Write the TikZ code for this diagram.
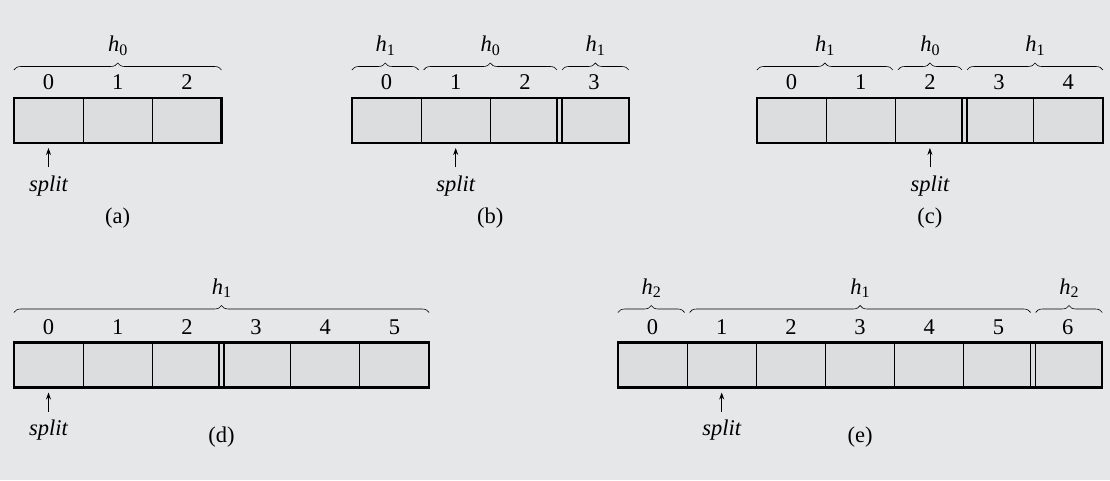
\documentclass[tikz,border=0pt]{standalone}
\usepackage{fontspec}
\setmainfont{Liberation Serif}
\usepackage{tikz}
\usetikzlibrary{arrows.meta, positioning, decorations.pathreplacing}
\definecolor{bggray}{HTML}{E6E7E8}
\definecolor{cellgray}{HTML}{DCDDDF}
\newcommand{\hfn}[1]{\textit{h}\raisebox{-0.35ex}{\fontsize{16}{16}\selectfont #1}}

\begin{document}
\begin{tikzpicture}[
    x=1pt, y=1pt,
    font=\fontsize{22.5}{25}\selectfont,
    cell/.style={draw, fill=cellgray, line width=1.1pt, minimum width=69.2pt, minimum height=45pt, inner sep=0pt, outer sep=0pt},
    dbl/.style={draw, fill=cellgray, line width=1.1pt, minimum width=5pt, minimum height=45pt, inner sep=0pt, outer sep=0pt},
    frame/.style={draw, line width=2.3pt},
    idx/.style={anchor=base, inner sep=0pt},
    brc/.style={decorate, decoration={brace, amplitude=7pt}, line width=0.6pt},
    hlbl/.style={anchor=base, inner sep=0pt, yshift=18.5pt},
    splitlbl/.style={anchor=base, inner sep=0pt, font=\fontsize{22.5}{25}\selectfont\itshape},
    caplbl/.style={anchor=base, inner sep=0pt},
    arrow/.style={-{Stealth[length=7pt, width=5pt]}, line width=0.8pt, shorten <=8pt, shorten >=5pt}
]
    \useasboundingbox (0,0) rectangle (1110,480);
    \fill[bggray] (0,0) rectangle (1110,480);

    % (a)
    \foreach \i in {0,1,2} {
        \node[cell] (a\i) at (48.5+69.2*\i, 359.5) {};
        \node[idx] (na\i) at ([yshift=8.5pt]a\i.north) {\i};
    }
    \draw[frame] (a0.north west) rectangle (a2.south east);
    \draw[brc] ([yshift=28pt]a0.north west) -- node[midway, hlbl] (ha0) {\hfn{0}} ([yshift=28pt]a2.north east);
    \node[splitlbl] (sa) at ([yshift=-48pt]a0.south) {split};
    \draw[arrow] (sa) -- (a0);
    \node[caplbl] (capa) at ([yshift=-80pt]a1.south) {(a)};

    % (b)
    \foreach \i in {0,...,3} {
        \node[cell] (b\i) at (386.5+69.2*\i, 359.5) {};
        \node[idx] (nb\i) at ([yshift=8.5pt]b\i.north) {\i};
    }
    \node[dbl] (b23) at (b2.east) {};
    \draw[frame] (b0.north west) rectangle (b3.south east);
    \draw[brc] ([yshift=28pt]b0.north west) -- node[midway, hlbl] (hb0) {\hfn{1}} ([shift={(-2.5,28)}]b0.north east);
    \draw[brc] ([shift={(2.5,28)}]b1.north west) -- node[midway, hlbl] (hb1) {\hfn{0}} ([shift={(-2.5,28)}]b2.north east);
    \draw[brc] ([shift={(2.5,28)}]b3.north west) -- node[midway, hlbl] (hb2) {\hfn{1}} ([yshift=28pt]b3.north east);
    \node[splitlbl] (sb) at ([yshift=-48pt]b1.south) {split};
    \draw[arrow] (sb) -- (b1);
    \node[caplbl] (capb) at ([yshift=-80pt]b1.south east) {(b)};

    % (c)
    \foreach \i in {0,...,4} {
        \node[cell] (c\i) at (791.5+69.2*\i, 359.5) {};
        \node[idx] (nc\i) at ([yshift=8.5pt]c\i.north) {\i};
    }
    \node[dbl] (c23) at (c2.east) {};
    \draw[frame] (c0.north west) rectangle (c4.south east);
    \draw[brc] ([yshift=28pt]c0.north west) -- node[midway, hlbl] (hc0) {\hfn{1}} ([shift={(-2.5,28)}]c1.north east);
    \draw[brc] ([shift={(2.5,28)}]c2.north west) -- node[midway, hlbl] (hc1) {\hfn{0}} ([shift={(-2.5,28)}]c2.north east);
    \draw[brc] ([shift={(2.5,28)}]c3.north west) -- node[midway, hlbl] (hc2) {\hfn{1}} ([yshift=28pt]c4.north east);
    \node[splitlbl] (sc) at ([yshift=-48pt]c2.south) {split};
    \draw[arrow] (sc) -- (c2);
    \node[caplbl] (capc) at ([yshift=-80pt]c2.south) {(c)};

    % (d)
    \foreach \i in {0,...,5} {
        \node[cell] (d\i) at (48.5+69.2*\i, 115) {};
        \node[idx] (nd\i) at ([yshift=8.5pt]d\i.north) {\i};
    }
    \node[dbl] (d23) at (d2.east) {};
    \draw[frame] (d0.north west) rectangle (d5.south east);
    \draw[brc] ([yshift=30pt]d0.north west) -- node[midway, hlbl] (hd0) {\hfn{1}} ([yshift=30pt]d5.north east);
    \node[splitlbl] (sd) at ([yshift=-48pt]d0.south) {split};
    \draw[arrow] (sd) -- (d0);
    \node[caplbl] (capd) at ([yshift=-55pt]d2.south east) {(d)};

    % (e)
    \foreach \i in {0,...,6} {
        \node[cell] (e\i) at (652.5+69.2*\i, 115) {};
        \node[idx] (ne\i) at ([yshift=8.5pt]e\i.north) {\i};
    }
    \node[dbl] (e56) at (e5.east) {};
    \draw[frame] (e0.north west) rectangle (e6.south east);
    \draw[brc] ([yshift=30pt]e0.north west) -- node[midway, hlbl] (he0) {\hfn{2}} ([shift={(-2.5,30)}]e0.north east);
    \draw[brc] ([shift={(2.5,30)}]e1.north west) -- node[midway, hlbl] (he1) {\hfn{1}} ([shift={(-2.5,30)}]e5.north east);
    \draw[brc] ([shift={(2.5,30)}]e6.north west) -- node[midway, hlbl] (he2) {\hfn{2}} ([yshift=30pt]e6.north east);
    \node[splitlbl] (se) at ([yshift=-48pt]e1.south) {split};
    \draw[arrow] (se) -- (e1);
    \node[caplbl] (cape) at ([yshift=-55pt]e3.south) {(e)};
\end{tikzpicture}
\end{document}
